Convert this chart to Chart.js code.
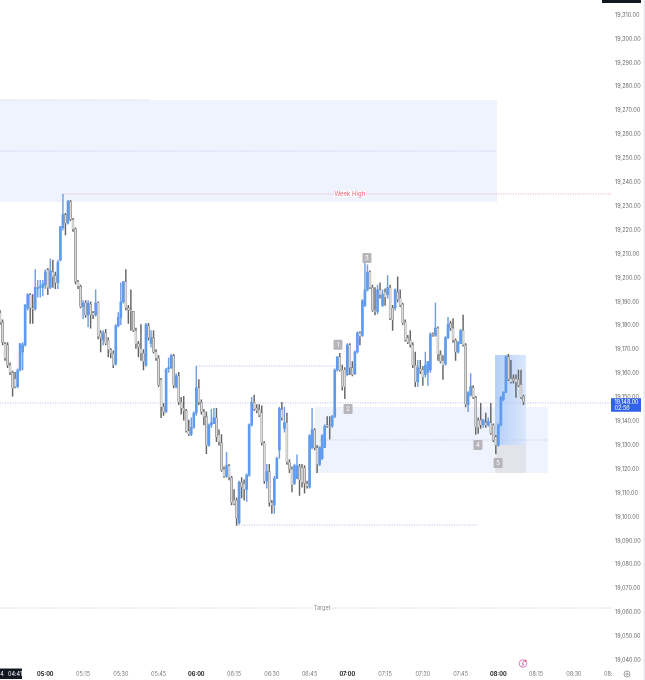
<!DOCTYPE html>
<html>
<head>
<meta charset="utf-8">
<style>
  html, body { margin: 0; padding: 0; background: #fff; }
  canvas { display: block; }
</style>
<script src="https://cdn.jsdelivr.net/npm/chart.js@4"></script>
</head>
<body>
<canvas id="priceChart" width="645" height="680"></canvas>
<script>
// one minute candles, first one opens at 04:42
const firstMinute = 282;
const lastMinute = 525;

const opens = [
  19185.5,19181.5,19172.5,19172,19163.5,19160.5,19158,19154.5,19161.5,19169,
  19172,19187.5,19193,19187.5,19187,19195.5,19196,19196,19197,19203.5,
  19196,19202.5,19201,19198,19207.5,19221,19226.5,19223,19232,19224.5,
  19220.5,19198.5,19196.5,19188,19189.5,19184.5,19189,19185.5,19184.5,19189.5,
  19177,19174,19177,19174,19170,19168.5,19164,19180,19183.5,19190,
  19198.5,19187.5,19186.5,19186,19178,19172.5,19170.5,19168.5,19163.5,19180,
  19172.5,19175,19169,19166.5,19157.5,19146,19144,19162,19162.5,19167.5,
  19154.5,19159,19148,19145.5,19144.5,19136,19134.5,19137.5,19143.5,19154,
  19148,19144,19142,19130,19138.5,19139,19141.5,19134.5,19131,19120,
  19117,19121.5,19116.5,19107,19107,19097.5,19114.5,19114,19111.5,19117.5,
  19138.5,19148,19145.5,19145,19143.5,19131,19115,19119,19106,19105,
  19116,19128,19145,19137,19139.5,19123,19120,19114,19116,19121,
  19120.5,19120.5,19114,19112.5,19129,19136.5,19129,19122,19124.5,19129,
  19138.5,19138,19138,19142,19161.5,19167,19161.5,19161.5,19159.5,19172,
  19162.5,19160,19169,19177,19176,19188.5,19195,19202.5,19196,19186.5,
  19186,19195,19188.5,19194,19193,19196,19187.5,19187.5,19194,19191.5,
  19189,19181.5,19175,19174,19172,19163.5,19156.5,19162,19161.5,19159.5,
  19160.5,19161.5,19176.5,19176,19179,19168,19165.5,19164,19175,19181,
  19179,19174,19169,19172.5,19178,19172,19147,19151,19154,19150,
  19140.5,19140.5,19138.5,19139.5,19138.5,19139.5,19138.5,19133.5,19130,19138.5,
  19149,19152,19167,19158,19158,19158,19157.5,19155.5,19150.5
];
const highs = [
  19186.5,19182.5,19173,19173,19164.5,19161,19160.5,19162,19172.5,19173,
  19189,19193.5,19193.5,19193,19203.5,19199,19199,19199,19203.5,19204,
  19208,19207.5,19202.5,19207.5,19221.5,19235,19227,19232.5,19232.5,19225,
  19221,19199,19197,19190.5,19190.5,19190.5,19190,19186,19195,19190,
  19178,19178,19178.5,19175,19170.5,19169.5,19180.5,19185.5,19198,19198.5,
  19203.5,19188.5,19195,19186,19179,19173.5,19180.5,19170,19181,19181,
  19178,19178,19170,19167.5,19158,19147.5,19162,19166.5,19168,19168,
  19160,19160.5,19150,19150.5,19145,19140.5,19141.5,19144,19163,19157.5,
  19149,19145,19144,19139,19145,19145.5,19145.5,19136.5,19134.5,19121,
  19127,19122,19117,19111.5,19108,19115,19116.5,19115.5,19118,19139,
  19150,19151,19147,19147,19146.5,19131.5,19122,19122,19107,19117,
  19125,19146,19148,19146,19143.5,19124,19121,19122,19126,19122,
  19122,19121.5,19115,19134.5,19145.5,19137,19130,19129.5,19134.5,19138.5,
  19142,19142,19142.5,19162,19167,19168.5,19163.5,19162.5,19172.5,19172.5,
  19165,19169.5,19177.5,19177.5,19191,19207,19205.5,19203,19197,19196,
  19197,19198,19195,19195.5,19201,19197,19188.5,19195.5,19200.5,19195,
  19189.5,19182.5,19176,19178,19173,19169,19165.5,19165.5,19163,19169,
  19165,19177,19177,19189.5,19179.5,19169.5,19167.5,19175.5,19183.5,19182,
  19183,19174.5,19173.5,19178.5,19184.5,19172.5,19152.5,19160,19155,19150.5,
  19141.5,19147.5,19141,19143.5,19141.5,19147.5,19139,19134,19139,19150.5,
  19152.5,19167.5,19168,19165.5,19159.5,19159.5,19161.5,19161.5,19151
];
const lows = [
  19180.5,19172,19165.5,19162.5,19159.5,19150.5,19154,19154,19161,19161.5,
  19171.5,19186.5,19181,19181,19186.5,19192,19192,19192.5,19195.5,19193,
  19195.5,19196,19195.5,19195.5,19207,19220,19218,19222.5,19224,19219.5,
  19197.5,19195.5,19187.5,19183,19183.5,19179.5,19179,19183,19184,19174.5,
  19169,19172,19172,19167,19166.5,19162.5,19163.5,19179.5,19180.5,19189.5,
  19186.5,19181,19178,19177.5,19170.5,19167,19165.5,19161.5,19163,19174,
  19171,19168.5,19165.5,19154.5,19141.5,19142.5,19143.5,19160.5,19162,19154,
  19154,19147,19143,19140.5,19135.5,19134,19134,19137,19142.5,19147,
  19143,19138.5,19126.5,19129.5,19137.5,19139,19131.5,19130,19119,19116.5,
  19116.5,19115.5,19105,19105,19096.5,19097,19108,19107,19106.5,19117,
  19138,19144.5,19143.5,19142,19130,19114,19112,19104.5,19101.5,19101.5,
  19116,19124.5,19140.5,19135.5,19122,19118.5,19110.5,19113.5,19116,19109,
  19112.5,19110,19112,19112,19128.5,19128,19118.5,19121.5,19124,19129,
  19137.5,19132.5,19137.5,19141.5,19161,19161,19153,19149.5,19159,19159.5,
  19159,19159.5,19168.5,19172,19175.5,19188,19194.5,19195.5,19186,19184.5,
  19185,19191.5,19188,19188.5,19191.5,19182.5,19178,19186.5,19190,19188,
  19180.5,19173.5,19172.5,19171,19162.5,19154.5,19154.5,19160,19155,19158.5,
  19155,19160.5,19175.5,19175.5,19165.5,19164.5,19157.5,19163.5,19174.5,19178,
  19173,19165.5,19168.5,19172.5,19171.5,19146,19144,19150.5,19149.5,19134.5,
  19135,19137,19137.5,19137.5,19138,19134.5,19131.5,19126.5,19129.5,19138,
  19148.5,19152,19157,19156,19156,19150,19154.5,19149.5,19147
];
const closes = [
  19181.5,19173,19166.5,19163.5,19160.5,19154,19154.5,19161.5,19172.5,19172,
  19188.5,19193,19187.5,19187,19196,19196,19196.5,19197.5,19202.5,19196,
  19203,19200.5,19198,19206.5,19221.5,19226.5,19223,19232,19224.5,19220.5,
  19198.5,19196.5,19188,19189.5,19184.5,19189.5,19184.5,19184.5,19189.5,19175.5,
  19175,19177,19172.5,19170,19168.5,19163.5,19180,19183.5,19190,19198.5,
  19187.5,19186.5,19186,19178,19172.5,19171,19168.5,19165,19180.5,19175,
  19175,19169,19166.5,19155,19146,19144,19162,19162.5,19167.5,19155,
  19159,19148,19145.5,19144.5,19136,19134.5,19137.5,19143.5,19154,19148,
  19144,19142,19130,19138.5,19139.5,19141.5,19133.5,19131.5,19119.5,19117,
  19121.5,19116.5,19106,19105.5,19099.5,19114.5,19112.5,19111.5,19117.5,19138.5,
  19148,19145,19144.5,19142.5,19131,19115,19119,19106,19105,19116,
  19124.5,19145.5,19141.5,19139.5,19123,19120,19113.5,19121.5,19121.5,19115.5,
  19114.5,19114,19113,19134,19136.5,19129,19122,19129,19134,19138,
  19138,19137.5,19142,19161.5,19167,19161.5,19154.5,19154.5,19172,19162.5,
  19159.5,19169,19177,19175.5,19190.5,19195,19202.5,19196,19186.5,19186,
  19195,19193,19193,19192,19196,19183,19182.5,19195,19191,19188.5,
  19181,19174,19173,19172,19163.5,19156.5,19162.5,19161,19158.5,19163.5,
  19165,19176.5,19176,19179,19168,19165,19163.5,19175,19180.5,19179,
  19174,19169,19173,19178,19172,19147,19152,19154.5,19150,19137.5,
  19137.5,19138.5,19140.5,19138.5,19140,19135,19132,19130,19138.5,19150,
  19152,19167,19157.5,19156.5,19157,19156.5,19155,19150,19148
];

const tickBold = [300, 360, 420, 480];

// shaded boxes: minute from / to, price top / bottom
const zoneFrom = [282, 407, 478.7, 478.7];
const zoneTo = [479.5, 499.7, 491, 491];
const zoneTop = [19274.5, 19146, 19167.8, 19130.1];
const zoneBottom = [19231.8, 19118.4, 19130.1, 19118.4];

// dotted levels
const levelFrom = [282, 282, 307, 360, 282, 409, 376, 282];
const levelTo = [341.6, 479.5, 525, 415, 525, 499.7, 472, 525];
const levelPrice = [19274.5, 19253.1, 19235.1, 19163.2, 19147.7, 19132.2, 19096.6, 19061.9];

const badgeText = ["1", "2", "3", "4", "5"];
const badgeMinute = [416.3, 420.3, 427.8, 471.9, 479.9];
const badgePrice = [19172, 19145.2, 19208.3, 19130.1, 19122.6];

const lastPrice = 19148;
const fontName = "Inter, 'Liberation Sans', sans-serif";

const levelColors = ["#c9c9d6", "#bccdf2", "#f2a6b4", "#b9b3e6", "#bdb8ea", "#bcc4ee", "#b9b3e6", "#c4bfe8"];
const zoneColors = ["#eef3fe", "#eef3fe", null, "rgba(225,225,232,0.85)"];

const minuteLabel = (m) => {
  const h = Math.floor(m / 60);
  const mm = m % 60;
  return String(h).padStart(2, "0") + ":" + String(mm).padStart(2, "0");
};

const candleMinute = opens.map((o, i) => firstMinute + i);
const isUp = opens.map((o, i) => closes[i] >= o);
const isHourTick = (c) => c.tick && tickBold.includes(c.tick.value);

// the tick labels must not push the plot away from the canvas edges
const noPadding = (scale) => {
  scale.paddingLeft = 0;
  scale.paddingRight = 0;
  scale.paddingTop = 0;
  scale.paddingBottom = 0;
};

const drawExtras = {
  id: "drawExtras",
  beforeDatasetsDraw(chart) {
    const { ctx, scales: { x, y } } = chart;
    ctx.save();
    zoneFrom.forEach((from, i) => {
      const left = x.getPixelForValue(from);
      const right = x.getPixelForValue(zoneTo[i]);
      const top = y.getPixelForValue(zoneTop[i]);
      const bottom = y.getPixelForValue(zoneBottom[i]);
      if (zoneColors[i]) {
        ctx.fillStyle = zoneColors[i];
      } else {
        const grad = ctx.createLinearGradient(left, 0, right, 0);
        grad.addColorStop(0, "#b4d0f6");
        grad.addColorStop(1, "#dbe7fb");
        ctx.fillStyle = grad;
      }
      ctx.fillRect(left, top, right - left, bottom - top);
    });
    ctx.restore();
  },
  afterDatasetsDraw(chart) {
    const { ctx, scales: { x, y } } = chart;
    ctx.save();
    ctx.textAlign = "center";
    ctx.textBaseline = "middle";

    // badges on the swing points
    badgeText.forEach((t, i) => {
      const cx = x.getPixelForValue(badgeMinute[i]);
      const cy = y.getPixelForValue(badgePrice[i]);
      ctx.fillStyle = "#b5b5ba";
      ctx.beginPath();
      ctx.roundRect(cx - 4.5, cy - 5, 9, 10, 1);
      ctx.fill();
      ctx.fillStyle = "#fff";
      ctx.font = "6px " + fontName;
      ctx.fillText(t, cx, cy + 0.5);
    });

    // text sitting on the level lines
    ctx.font = "6px " + fontName;
    let tx = x.getPixelForValue(421);
    let ty = y.getPixelForValue(19235.1);
    ctx.fillStyle = "#fff";
    ctx.fillRect(tx - 16, ty - 3, 32, 6);
    ctx.fillStyle = "#ef5f78";
    ctx.fillText("Week High", tx, ty);

    ctx.font = "5.5px " + fontName;
    tx = x.getPixelForValue(410);
    ty = y.getPixelForValue(19061.9);
    ctx.fillStyle = "#fff";
    ctx.fillRect(tx - 9, ty - 3, 18, 6);
    ctx.fillStyle = "#8a8a94";
    ctx.fillText("Target", tx, ty);

    // last price label on the axis
    const py = y.getPixelForValue(lastPrice);
    ctx.fillStyle = "#2f62e8";
    ctx.fillRect(611, py - 4, 30, 13.5);
    ctx.fillStyle = "#fff";
    ctx.textAlign = "left";
    ctx.fillText("19,148.00", 614.5, py - 0.2);
    ctx.fillText("02:56", 614.5, py + 5.8);

    // crosshair labels cut by the edge of the screenshot
    ctx.fillStyle = "#131722";
    ctx.fillRect(602, 0, 39, 3);
    ctx.fillRect(0, 668.5, 22, 10.5);
    ctx.fillStyle = "#fff";
    ctx.fillText("24", -3, 674);
    ctx.fillText("04:41", 8, 674);

    // hide the end of the last time label under the price axis
    ctx.fillStyle = "#fff";
    ctx.fillRect(612, 668, 33, 12);

    // settings wheel
    ctx.strokeStyle = "#777";
    ctx.lineWidth = 0.7;
    ctx.beginPath();
    ctx.arc(627, 674, 3, 0, Math.PI * 2);
    ctx.stroke();
    ctx.beginPath();
    ctx.arc(627, 674, 1, 0, Math.PI * 2);
    ctx.stroke();

    // flash icon above the time axis
    ctx.strokeStyle = "#c65fa8";
    ctx.lineWidth = 0.8;
    ctx.beginPath();
    ctx.arc(523, 663.5, 3.8, 0, Math.PI * 2);
    ctx.stroke();
    ctx.beginPath();
    ctx.moveTo(524, 661);
    ctx.lineTo(522, 664);
    ctx.lineTo(524, 664);
    ctx.lineTo(522, 666.5);
    ctx.stroke();
    ctx.fillStyle = "#ef4f6b";
    ctx.beginPath();
    ctx.arc(525.5, 660.8, 1.1, 0, Math.PI * 2);
    ctx.fill();

    // window edge
    ctx.fillStyle = "#e9e9ee";
    ctx.fillRect(643.5, 0, 1.5, 680);
    ctx.restore();
  },
};

const levelSets = levelFrom.map((from, i) => ({
  type: "line",
  data: [{ x: from, y: levelPrice[i] }, { x: levelTo[i], y: levelPrice[i] }],
  borderColor: levelColors[i],
  borderWidth: 1,
  borderDash: [1, 1.5],
  pointRadius: 0,
  order: 3,
}));

new Chart(document.getElementById("priceChart").getContext("2d"), {
  type: "bar",
  data: {
    datasets: [
      ...levelSets,
      {
        label: "wick",
        data: candleMinute.map((m, i) => ({ x: m, y: [lows[i], highs[i]] })),
        backgroundColor: isUp.map((up) => (up ? "#6f9fe4" : "#666666")),
        barThickness: 0.8,
        order: 2,
      },
      {
        label: "body",
        data: candleMinute.map((m, i) => ({ x: m, y: [opens[i], closes[i]] })),
        backgroundColor: isUp.map((up) => (up ? "#5f9bee" : "#dadada")),
        borderColor: isUp.map((up) => (up ? "#5f9bee" : "#5c5c5c")),
        borderWidth: isUp.map((up) => (up ? 0 : 0.4)),
        barThickness: 2,
        order: 1,
      },
    ],
  },
  plugins: [drawExtras],
  options: {
    responsive: false,
    animation: false,
    layout: { padding: 0 },
    plugins: { legend: { display: false }, tooltip: { enabled: false } },
    datasets: { bar: { grouped: false } },
    scales: {
      x: {
        type: "linear",
        offset: false,
        min: firstMinute,
        max: lastMinute,
        grid: { display: false, offset: false, drawTicks: false },
        border: { display: false },
        afterFit: (scale) => { scale.height = 12; noPadding(scale); },
        ticks: {
          stepSize: 15,
          includeBounds: false,
          autoSkip: false,
          maxRotation: 0,
          padding: 3,
          font: (c) => ({ family: fontName, size: 5.5, weight: isHourTick(c) ? "bold" : "normal" }),
          color: (c) => (isHourTick(c) ? "#222" : "#777"),
          callback: (v) => minuteLabel(v),
        },
      },
      y: {
        position: "right",
        min: 19036.8,
        max: 19316.3,
        grid: { display: false, drawTicks: false },
        border: { display: false },
        afterFit: (scale) => { scale.width = 33.4; noPadding(scale); },
        ticks: {
          stepSize: 10,
          includeBounds: false,
          autoSkip: false,
          padding: 3.5,
          font: { family: fontName, size: 5.5 },
          color: "#6a6a6a",
          callback: (v) => v.toLocaleString("en-US", { minimumFractionDigits: 2, maximumFractionDigits: 2 }),
        },
      },
    },
  },
});
</script>
</body>
</html>
